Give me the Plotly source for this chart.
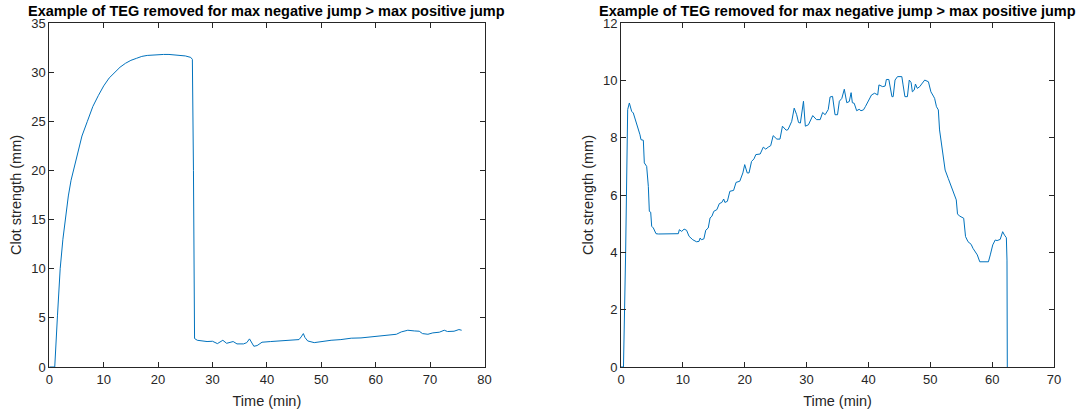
import plotly.graph_objects as go

# Left panel data (time in min, clot strength in mm)
t_left = [0, 0.5, 1.0, 1.5, 2.0, 2.5, 3.0, 3.5, 4.0, 4.5, 5.0, 6.0, 7.0, 8.0, 9.0, 10.0,
          11.0, 12.0, 13.0, 14.0, 15.0, 16.0, 17.0, 18.0, 19.0, 20.0, 21.0, 22.0, 23.0,
          24.0, 25.0, 26.0, 26.3, 26.5, 26.6, 26.7,
          27.2, 29.0, 30.0, 30.9, 31.9, 32.6, 33.8, 34.5, 35.7, 36.3, 36.8, 37.1, 37.6,
          38.2, 39.1, 40.7, 42.5, 44.4, 45.9, 46.3, 46.7, 47.0, 47.5, 48.7, 49.9, 51.8,
          53.6, 55.5, 57.3, 59.2, 61.0, 62.9, 63.8, 64.7, 65.9, 67.1, 68.0, 68.6, 69.6,
          70.5, 71.7, 72.6, 73.2, 74.4, 75.3, 75.8]
y_left = [0, 0, 0, 5.2, 10.0, 13.0, 15.5, 17.4, 19.0, 20.2, 21.4, 23.5, 25.0, 26.5, 27.6, 28.6,
          29.4, 30.0, 30.5, 30.9, 31.2, 31.4, 31.6, 31.7, 31.75, 31.8, 31.8, 31.8, 31.75,
          31.7, 31.65, 31.5, 31.3, 20.0, 8.0, 2.9,
          2.72, 2.59, 2.62, 2.38, 2.72, 2.41, 2.59, 2.35, 2.35, 2.48, 2.86, 2.55, 2.11,
          2.18, 2.52, 2.59, 2.65, 2.72, 2.79, 3.06, 3.40, 3.0, 2.65, 2.48, 2.59, 2.72,
          2.79, 2.93, 2.96, 3.06, 3.23, 3.33, 3.33, 3.57, 3.74, 3.67, 3.64, 3.40, 3.33,
          3.47, 3.54, 3.74, 3.61, 3.64, 3.81, 3.74]

# Right panel data
t_right = [0, 0.4, 0.75, 0.92, 1.08, 1.35, 1.72, 1.99, 2.42, 2.80, 3.07, 3.23, 3.61, 3.77,
           4.15, 4.42, 4.58, 4.80, 4.96, 5.23, 5.66, 6.03, 9.27, 9.43, 9.81, 10.2, 10.6,
           11.0, 11.6, 12.2, 12.6, 12.8, 13.0, 13.4, 13.7, 14.1, 14.4, 14.7, 15.0, 15.5,
           15.9, 16.3, 16.6, 16.8, 17.2, 17.6, 18.2, 18.6, 19.2, 19.7, 20.0, 20.4, 20.7,
           21.1, 21.5, 21.8, 22.5, 23.0, 23.4, 23.8, 24.2, 24.6, 25.2, 25.7, 26.1, 26.7,
           27.0, 27.6, 28.0, 28.4, 28.7, 29.0, 29.5, 29.8, 30.3, 31.0, 31.6, 32.2, 32.6,
           33.0, 33.5, 33.8, 34.2, 34.6, 35.0, 35.3, 35.7, 36.1, 36.5, 36.9, 37.2, 37.4,
           37.7, 38.1, 38.5, 38.8, 39.2, 39.5, 40.0, 40.5, 41.0, 41.5, 41.7, 42.3, 42.7,
           42.9, 43.3, 43.5, 43.8, 44.0, 44.3, 44.7, 45.4, 45.6, 45.9, 46.3, 46.6, 46.9,
           47.1, 47.4, 47.6, 47.9, 48.3, 48.6, 49.1, 49.7, 50.1, 50.5, 50.7, 51.0, 51.3,
           51.5, 51.8, 52.1, 52.4, 52.9, 53.4, 53.8, 54.2, 54.4, 54.7, 55.4, 55.7, 56.1,
           56.6, 56.9, 57.3, 57.6, 58.0, 59.4, 59.7, 60.1, 60.5, 60.8, 61.3, 61.7, 62.0,
           62.3, 62.4, 62.45]
y_right = [0, 0, 4.0, 8.0, 8.98, 9.21, 8.92, 8.86, 8.57, 8.34, 8.1, 7.93, 7.91, 7.12,
           7.0, 6.30, 5.43, 5.40, 4.91, 4.85, 4.65, 4.64, 4.65, 4.79, 4.73, 4.81, 4.77,
           4.56, 4.44, 4.37, 4.38, 4.50, 4.44, 4.47, 4.77, 4.85, 5.20, 5.26, 5.43, 5.49,
           5.70, 5.74, 5.86, 5.74, 5.78, 6.13, 6.16, 6.44, 6.48, 6.77, 7.06, 6.77, 6.77,
           7.17, 7.26, 7.41, 7.43, 7.67, 7.60, 7.67, 7.72, 8.07, 7.95, 7.95, 8.40, 8.26,
           8.28, 8.57, 9.03, 8.80, 8.53, 8.51, 9.27, 8.40, 8.45, 8.77, 8.63, 8.63, 8.88,
           8.80, 8.98, 9.42, 9.44, 8.80, 8.80, 9.27, 9.37, 9.69, 9.22, 9.26, 9.57, 9.22,
           9.20, 8.94, 8.99, 8.94, 8.97, 9.08, 9.26, 9.49, 9.55, 9.49, 9.84, 9.78, 9.80,
           10.03, 10.03, 9.78, 9.43, 9.43, 10.01, 10.13, 10.13, 9.84, 9.43, 9.43, 10.01,
           9.92, 9.60, 9.66, 9.87, 9.72, 9.78, 9.87, 10.01, 9.95, 9.60, 9.45, 9.37, 9.08,
           8.97, 8.27, 7.80, 7.34, 6.87, 6.58, 6.29, 6.06, 5.83, 5.34, 5.27, 5.19, 4.55,
           4.37, 4.28, 4.14, 4.02, 3.91, 3.67, 3.67, 3.91, 4.26, 4.43, 4.41, 4.45, 4.72,
           4.60, 4.51, 3.73, 0.0]

left_xticks = [0, 10, 20, 30, 40, 50, 60, 70, 80]
left_yticks = [0, 5, 10, 15, 20, 25, 30, 35]
right_xticks = [0, 10, 20, 30, 40, 50, 60, 70]
right_yticks = [0, 2, 4, 6, 8, 10, 12]

title_text = "Example of TEG removed for max negative jump > max positive jump"
line_color = "#0072BD"
ax_color = "#262626"
FONT = "Liberation Sans, Arial, Helvetica, sans-serif"

fig = go.Figure()
fig.add_trace(go.Scatter(x=t_left, y=y_left, mode="lines",
                         line=dict(color=line_color, width=1), xaxis="x", yaxis="y",
                         showlegend=False))
fig.add_trace(go.Scatter(x=t_right, y=y_right, mode="lines",
                         line=dict(color=line_color, width=1), xaxis="x2", yaxis="y2",
                         showlegend=False))

W, H = 1085, 413
ydom = [1 - 367 / H, 1 - 23 / H]

def xax(domain, rng, ticks, anchor):
    return dict(domain=domain, range=rng, tickvals=ticks, anchor=anchor, automargin=False,
                showgrid=False, zeroline=False, showline=True, linecolor=ax_color,
                linewidth=1, mirror="ticks", ticks="inside", ticklen=5,
                tickcolor=ax_color, tickfont=dict(size=13, color=ax_color, family=FONT),
                title=dict(text="Time (min)", font=dict(size=14.5, color=ax_color, family=FONT),
                           standoff=10))

def yax(rng, ticks, anchor, standoff):
    return dict(domain=ydom, range=rng, tickvals=ticks, anchor=anchor, automargin=False,
                showgrid=False, zeroline=False, showline=True, linecolor=ax_color,
                linewidth=1, mirror="ticks", ticks="inside", ticklen=5,
                tickcolor=ax_color, tickfont=dict(size=13, color=ax_color, family=FONT),
                title=dict(text="Clot strength (mm)", font=dict(size=14.5, color=ax_color, family=FONT),
                           standoff=standoff))

fig.update_layout(
    width=W, height=H,
    margin=dict(l=0, r=0, t=0, b=0),
    paper_bgcolor="white", plot_bgcolor="white",
    font=dict(family=FONT, color=ax_color),
    xaxis=xax([49.3 / W, 484.5 / W], [0, 80], left_xticks, "y"),
    yaxis=yax([0, 35], left_yticks, "x", 6),
    xaxis2=xax([621 / W, 1054 / W], [0, 70], right_xticks, "y2"),
    yaxis2=yax([0, 12], right_yticks, "x2", 5),
    annotations=[
        dict(text="<b>" + title_text + "</b>", x=(49.3 + 484.5) / 2 / W, y=1 - 10.5 / H,
             xref="paper", yref="paper", xanchor="center", yanchor="middle",
             showarrow=False, font=dict(size=14.5, color="black", family=FONT)),
        dict(text="<b>" + title_text + "</b>", x=(621 + 1054) / 2 / W, y=1 - 10.5 / H,
             xref="paper", yref="paper", xanchor="center", yanchor="middle",
             showarrow=False, font=dict(size=14.5, color="black", family=FONT)),
    ],
)

fig.write_html("out.html")
